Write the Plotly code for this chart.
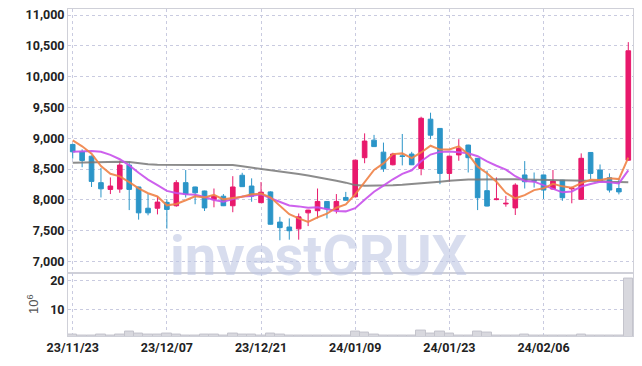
import plotly.graph_objects as go

dates = [
    "2023-11-23", "2023-11-24", "2023-11-27", "2023-11-28", "2023-11-29", "2023-11-30",
    "2023-12-01", "2023-12-04", "2023-12-05", "2023-12-06", "2023-12-07", "2023-12-08",
    "2023-12-11", "2023-12-12", "2023-12-13", "2023-12-14", "2023-12-15", "2023-12-18",
    "2023-12-19", "2023-12-20", "2023-12-21", "2023-12-22", "2023-12-26", "2023-12-27",
    "2023-12-28", "2024-01-02", "2024-01-03", "2024-01-04", "2024-01-05", "2024-01-08",
    "2024-01-09", "2024-01-10", "2024-01-11", "2024-01-12", "2024-01-15", "2024-01-16",
    "2024-01-17", "2024-01-18", "2024-01-19", "2024-01-22", "2024-01-23", "2024-01-24",
    "2024-01-25", "2024-01-26", "2024-01-29", "2024-01-30", "2024-01-31", "2024-02-01",
    "2024-02-02", "2024-02-05", "2024-02-06", "2024-02-07", "2024-02-08", "2024-02-13",
    "2024-02-14", "2024-02-15", "2024-02-16", "2024-02-19", "2024-02-20", "2024-02-21",
]

open_ = [8900, 8780, 8710, 8280, 8170, 8175, 8565, 8210, 7865, 7865,
         7960, 7905, 8280, 8210, 8145, 8005, 8060, 7905, 8400, 8225,
         7955, 8130, 7640, 7560, 7530, 7790, 7825, 7975, 7835, 8040,
         8050, 8685, 8970, 8775, 8570, 8715, 8745, 8510, 9310, 9160,
         8430, 8730, 8890, 8675, 8150, 8005, 7935, 7870, 8405, 8315,
         8405, 8175, 8320, 8180, 8010, 8770, 8485, 8360, 8185, 8645]
high = [8910, 8820, 8720, 8520, 8365, 8635, 8620, 8215, 8095, 8060,
        8010, 8320, 8485, 8215, 8150, 8185, 8095, 8385, 8440, 8350,
        8290, 8140, 7725, 7700, 7780, 7840, 8185, 7980, 8095, 8130,
        8650, 9080, 9055, 8930, 8765, 9070, 8780, 9350, 9415, 9165,
        8715, 8985, 8895, 8680, 8475, 8365, 8065, 8270, 8630, 8445,
        8410, 8485, 8325, 8215, 8755, 8775, 8575, 8430, 8350, 10560]
low = [8670, 8530, 8210, 8040, 8095, 8115, 7835, 7680, 7750, 7765,
       7535, 7890, 8040, 7930, 7820, 7880, 7900, 7800, 8210, 7970,
       7950, 7600, 7345, 7355, 7355, 7575, 7700, 7700, 7780, 7990,
       8045, 8595, 8860, 8455, 8560, 8560, 8565, 8400, 8985, 8255,
       8295, 8635, 8445, 7835, 7895, 7995, 7890, 7755, 8185, 8200,
       8015, 8170, 7985, 7945, 8000, 8340, 8290, 8120, 8090, 8640]
close = [8780, 8640, 8300, 8180, 8225, 8565, 8170, 7790, 7790, 7965,
         7845, 8280, 8095, 8115, 7870, 8060, 7905, 8210, 8215, 8060,
         8125, 7605, 7550, 7500, 7725, 7835, 7975, 7855, 7975, 7995,
         8645, 8955, 8865, 8505, 8745, 8705, 8570, 9325, 9050, 8430,
         8710, 8835, 8685, 8035, 7900, 8015, 7945, 8240, 8295, 8305,
         8160, 8305, 8035, 8190, 8675, 8430, 8295, 8160, 8130, 10420]

ma5 = [8965, 8870, 8750, 8550, 8425, 8382, 8288, 8186, 8108, 8056,
       7912, 7934, 7995, 8060, 8041, 8084, 8009, 8032, 8052, 8090,
       8103, 8043, 7911, 7768, 7701, 7643, 7717, 7778, 7873, 7927,
       8089, 8285, 8487, 8593, 8743, 8755, 8678, 8770, 8879, 8816,
       8817, 8870, 8742, 8539, 8433, 8294, 8115, 8026, 8078, 8159,
       8188, 8261, 8220, 8199, 8273, 8327, 8325, 8350, 8338, 8687]
ma10 = [8780, 8790, 8795, 8780, 8730, 8660, 8560, 8440, 8330, 8240,
        8147, 8111, 8090, 8084, 8048, 7998, 7971, 8013, 8056, 8065,
        8093, 8026, 7971, 7910, 7895, 7873, 7880, 7844, 7820, 7814,
        7866, 8001, 8132, 8233, 8335, 8422, 8481, 8628, 8736, 8779,
        8786, 8774, 8756, 8709, 8624, 8555, 8492, 8384, 8308, 8296,
        8241, 8188, 8123, 8138, 8216, 8257, 8293, 8285, 8268, 8480]
ma_long = [8605, 8610, 8612, 8615, 8618, 8620, 8615, 8595, 8580, 8570,
           8566, 8563, 8562, 8565, 8568, 8570, 8572, 8565, 8545, 8525,
           8510, 8485, 8460, 8440, 8420, 8395, 8370, 8340, 8310, 8280,
           8240, 8230, 8230, 8232, 8238, 8245, 8255, 8265, 8280, 8295,
           8310, 8322, 8330, 8333, 8336, 8338, 8338, 8335, 8333, 8330,
           8328, 8327, 8326, 8324, 8320, 8315, 8305, 8295, 8285, 8285]

volume_m = [1.25, 0.95, 1.15, 1.5, 0.95, 1.25, 2.5, 1.7, 1.4, 1.4,
            1.7, 1.4, 1.0, 0.95, 1.25, 1.25, 0.95, 1.7, 1.4, 1.4,
            1.05, 1.8, 1.4, 0.95, 0.95, 0.95, 1.05, 0.95, 1.05, 0.95,
            2.5, 2.2, 1.4, 1.05, 1.05, 1.05, 1.05, 2.7, 1.9, 2.4,
            1.6, 1.15, 1.1, 2.3, 1.95, 0.95, 0.95, 1.1, 1.4, 0.95,
            0.95, 0.95, 0.95, 0.95, 1.4, 1.1, 0.95, 0.95, 0.95, 20.7]

tick_dates = ["2023-11-23", "2023-12-07", "2023-12-21", "2024-01-09", "2024-01-23", "2024-02-06"]
tick_labels = ["23/11/23", "23/12/07", "23/12/21", "24/01/09", "24/01/23", "24/02/06"]

price_ticks = [7000, 7500, 8000, 8500, 9000, 9500, 10000, 10500, 11000]
volume_ticks = [10, 20]

UP = "#e8196c"
DOWN = "#2b95c8"
GRID = "#c9cbe0"
FRAME = "#cfd0d8"
TICKFONT = dict(family="Roboto, sans-serif", size=12.5, color="#222222", weight="bold")

fig = go.Figure()

fig.add_trace(go.Bar(
    x=dates, y=volume_m, xaxis="x", yaxis="y2",
    marker=dict(color="#d8d8de", line=dict(color="#c4c4cc", width=1)),
    showlegend=False, hoverinfo="skip",
))

fig.add_trace(go.Candlestick(
    x=dates, open=open_, high=high, low=low, close=close,
    xaxis="x", yaxis="y",
    increasing=dict(line=dict(color=UP, width=1), fillcolor=UP),
    decreasing=dict(line=dict(color=DOWN, width=1), fillcolor=DOWN),
    whiskerwidth=0, showlegend=False,
))

fig.add_trace(go.Scatter(x=dates, y=ma_long, mode="lines", xaxis="x", yaxis="y",
                         line=dict(color="rgba(120,120,120,0.85)", width=2), showlegend=False))
fig.add_trace(go.Scatter(x=dates, y=ma10, mode="lines", xaxis="x", yaxis="y",
                         line=dict(color="rgba(200,80,235,0.9)", width=2), showlegend=False))
fig.add_trace(go.Scatter(x=dates, y=ma5, mode="lines", xaxis="x", yaxis="y",
                         line=dict(color="rgba(240,130,70,0.9)", width=2), showlegend=False))

fig.update_layout(
    width=642, height=366,
    margin=dict(l=68, r=9, t=9, b=30),
    paper_bgcolor="white", plot_bgcolor="white",
    bargap=0,
    xaxis=dict(
        type="category", anchor="y2", range=[-0.5, 59.5], automargin=False,
        rangeslider=dict(visible=False),
        tickmode="array", tickvals=tick_dates, ticktext=tick_labels,
        showgrid=True, gridcolor=GRID, griddash="dot", gridwidth=1,
        showline=True, linecolor=FRAME, linewidth=1, mirror="all",
        ticks="", tickfont=TICKFONT,
    ),
    yaxis=dict(
        domain=[0.194, 1], range=[6821, 11098], automargin=False,
        tickmode="array", tickvals=price_ticks, tickformat=",",
        showgrid=True, gridcolor=GRID, griddash="dot", gridwidth=1,
        showline=True, linecolor=FRAME, linewidth=1, mirror=True,
        zeroline=False, ticks="", tickfont=TICKFONT,
    ),
    yaxis2=dict(
        domain=[0, 0.194], range=[0.9, 22.76], automargin=False,
        tickmode="array", tickvals=volume_ticks,
        showgrid=True, gridcolor=GRID, griddash="dot", gridwidth=1,
        showline=True, linecolor=FRAME, linewidth=1, mirror=True,
        zeroline=False, ticks="", tickfont=TICKFONT,
        title=dict(text="10<sup>6</sup>", font=dict(family="Liberation Sans, Arial, sans-serif", size=13, color="#555555"), standoff=8),
    ),
    annotations=[dict(
        text="investCRUX", xref="paper", yref="paper", x=0.443, y=0.244,
        xanchor="center", yanchor="middle", showarrow=False,
        font=dict(family="Roboto, sans-serif", size=56, color="rgba(190,198,226,0.6)", weight="bold"),
    )],
)

fig.write_html(
    "out.html",
    config={"displayModeBar": False},
    post_script="document.body.style.margin='0px';document.body.style.overflow='hidden';",
)
